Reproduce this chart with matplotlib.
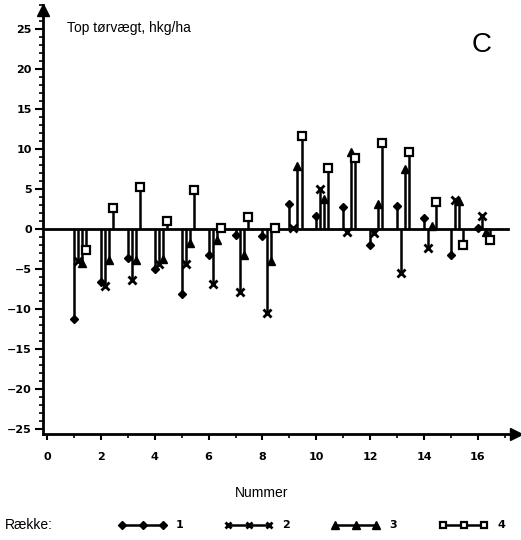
import matplotlib
matplotlib.use("Agg")
import matplotlib.pyplot as plt
from matplotlib.ticker import MultipleLocator
import numpy as np

plt.rcParams['font.family'] = ['Liberation Sans', 'DejaVu Sans']

# Data (Top tørvægt, hkg/ha)
nummer = np.arange(1, 17)
raekke_1 = [-11.2, -6.6, -3.6, -5.0, -8.1, -3.2, -0.7, -0.9, 3.1, 1.6, 2.7, -2.0, 2.9, 1.4, -3.2, 0.1]
raekke_2 = [-4.0, -7.1, -6.3, -4.4, -4.3, -6.9, -7.9, -10.5, 0.2, 5.0, -0.4, -0.5, -5.5, -2.3, 3.6, 1.6]
raekke_3 = [-4.2, -3.9, -3.9, -3.7, -1.7, -1.4, -3.2, -4.0, 7.9, 3.8, 9.6, 3.1, 7.5, 0.4, 3.5, -0.3]
raekke_4 = [-2.6, 2.6, 5.2, 1.0, 4.9, 0.1, 1.5, 0.1, 11.6, 7.6, 8.9, 10.8, 9.6, 3.4, -2.0, -1.3]
labels = ['1', '2', '3', '4']

series = [raekke_1, raekke_2, raekke_3, raekke_4]
offsets = [0.0, 0.15, 0.3, 0.45]
markers = [dict(marker='D', ms=4.5, mfc='black', mec='black'),
           dict(marker='x', ms=5.5, mfc='black', mec='black', mew=2),
           dict(marker='^', ms=6, mfc='black', mec='black'),
           dict(marker='s', ms=5.5, mfc='white', mec='black', mew=1.6)]

fig = plt.figure(figsize=(5.21, 5.40), dpi=100)
ax = fig.add_axes([43 / 521, (540 - 434) / 540, 478 / 521, 429 / 540])

x_min, x_max = -0.15, 17.6
y_min, y_max = -25.6, 28.0
ax.set_xlim(x_min, x_max)
ax.set_ylim(y_min, y_max)

# zero line
ax.plot([x_min, 17.1], [0, 0], color='black', lw=2, zorder=2)

for vals, off, mk in zip(series, offsets, markers):
    xs = nummer + off
    ax.vlines(xs, 0, vals, color='black', lw=1.8, zorder=3)
    ax.plot(xs, vals, ls='none', zorder=4, **mk)

# axes with arrows
for s in ['top', 'right']:
    ax.spines[s].set_visible(False)
ax.spines['left'].set_linewidth(2)
ax.spines['bottom'].set_linewidth(2)
ax.plot([x_min], [y_max - 0.6], marker='^', ms=8, color='black', clip_on=False, zorder=5)
ax.plot([x_max - 0.2], [y_min], marker='>', ms=8, color='black', clip_on=False, zorder=5)

ax.set_yticks(np.arange(-25, 26, 5))
ax.yaxis.set_minor_locator(MultipleLocator(1))
ax.set_xticks(np.arange(0, 17, 2))
ax.xaxis.set_minor_locator(MultipleLocator(1))
ax.tick_params(axis='y', which='major', length=6, width=1.5, pad=2)
ax.tick_params(axis='y', which='minor', length=3, width=1.2)
ax.tick_params(axis='x', which='major', length=4, width=1.5, pad=9)
ax.tick_params(axis='x', which='minor', length=3, width=1.2)
for lab in ax.get_xticklabels() + ax.get_yticklabels():
    lab.set_fontweight('bold')
    lab.set_fontsize(8)
    lab.set_family('DejaVu Sans')

fig.text(67 / 521, 1 - 28 / 540, 'Top tørvægt, hkg/ha', fontsize=10, va='center', ha='left')
fig.text(482 / 521, 1 - 45 / 540, 'C', fontsize=20, va='center', ha='center')
fig.text(262 / 521, 1 - 493 / 540, 'Nummer', fontsize=10, va='center', ha='center')
fig.text(5 / 521, 1 - 525 / 540, 'Række:', fontsize=10, va='center', ha='left')

# legend row
lax = fig.add_axes([0, 0, 1, 30 / 540])
lax.set_xlim(0, 521)
lax.set_ylim(0, 30)
lax.axis('off')
leg_x = [122, 228, 335, 443]
for lx, mk, lab in zip(leg_x, markers, labels):
    xs = np.linspace(lx, lx + 41, 3)
    small = dict(mk)
    small['ms'] = mk['ms'] * 0.85
    lax.plot(xs, [15, 15, 15], color='black', lw=1.8, **small)
    lax.text(lx + 54, 15, lab, fontsize=8, fontweight='bold', va='center', ha='left',
             family='DejaVu Sans')

fig.savefig('out.png', dpi=100)
